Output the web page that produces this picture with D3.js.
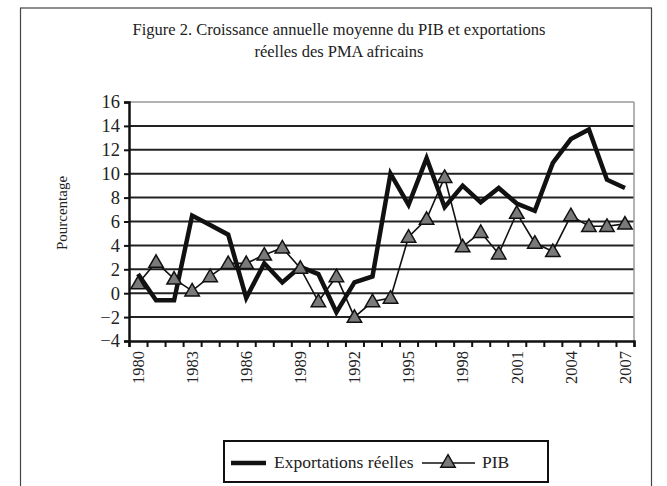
<!DOCTYPE html>
<html>
<head>
<meta charset="utf-8">
<script src="https://cdn.jsdelivr.net/npm/d3@7"></script>
<style>
body{margin:0;background:#fff;}
</style>
</head>
<body>
<svg id="chart" width="667" height="486"></svg>
<script>
const years=[1980,1981,1982,1983,1984,1985,1986,1987,1988,1989,1990,1991,1992,1993,1994,1995,1996,1997,1998,1999,2000,2001,2002,2003,2004,2005,2006,2007];
const exportations=[1.6,-0.6,-0.6,6.5,5.7,4.9,-0.4,2.5,0.9,2.2,1.6,-1.6,0.9,1.4,10.0,7.4,11.3,7.2,9.0,7.6,8.8,7.5,6.9,10.9,12.9,13.7,9.5,8.8];
const pib=[0.8,2.6,1.2,0.2,1.4,2.5,2.5,3.2,3.8,2.1,-0.7,1.4,-2.0,-0.7,-0.4,4.7,6.2,9.7,3.9,5.1,3.3,6.7,4.2,3.5,6.5,5.6,5.6,5.8];
const yTicks=[-4,-2,0,2,4,6,8,10,12,14,16];
const labelYears=[1980,1983,1986,1989,1992,1995,1998,2001,2004,2007];
const titleLines=["Figure 2. Croissance annuelle moyenne du PIB et exportations","réelles des PMA africains"];
const seriesNames=["Exportations réelles","PIB"];

const serif="'Liberation Serif','Times New Roman','DejaVu Serif',serif";
const svg=d3.select("#chart");
const pLeft=129,pRight=634,pTop=102,pBottom=341;

// cadre
svg.append("rect").attr("x",20.5).attr("y",8).attr("width",631).attr("height",500)
	.attr("fill","none").attr("stroke","#444").attr("stroke-width",1.2);

svg.selectAll("text.title").data(titleLines).enter().append("text")
	.attr("class","title").attr("x",339).attr("y",function(d,i){return 35+i*22;})
	.attr("text-anchor","middle").style("font-family",serif).style("font-size","16.5px").style("fill","#222")
	.text(function(d){return d;});

const x=d3.scaleBand().domain(years).range([pLeft,pRight]);
const xi=d3.scaleLinear().domain([0,years.length]).range([pLeft,pRight]);
const y=d3.scaleLinear().domain([-4,16]).range([pBottom,pTop]);

// grille
svg.append("g").selectAll("line").data(yTicks.filter(function(d){return d>-4&&d<16;})).enter().append("line")
	.attr("x1",pLeft).attr("x2",pRight).attr("y1",function(d){return y(d);}).attr("y2",function(d){return y(d);})
	.attr("stroke","#222").attr("stroke-width",2);
svg.append("line").attr("x1",pLeft).attr("x2",pRight).attr("y1",y(16)).attr("y2",y(16)).attr("stroke","#999").attr("stroke-width",1.5);
svg.append("line").attr("x1",pRight).attr("x2",pRight).attr("y1",y(16)).attr("y2",y(-4)).attr("stroke","#999").attr("stroke-width",1.5);

// axe y
const yAxis=svg.append("g").attr("transform","translate("+pLeft+",0)")
	.call(d3.axisLeft(y).tickValues(yTicks).tickSize(5).tickPadding(4));
yAxis.selectAll("line").attr("stroke","#111").attr("stroke-width",2);
yAxis.select(".domain").attr("stroke","#111").attr("stroke-width",2.5);
yAxis.selectAll("text").style("font-family",serif).style("font-size","18.5px").style("fill","#222");

svg.append("text").attr("transform","translate(67,213) rotate(-90)").attr("text-anchor","middle")
	.style("font-family",serif).style("font-size","15px").style("fill","#222").text("Pourcentage");

// axe x
const xAxis=svg.append("g").attr("transform","translate(0,"+pBottom+")")
	.call(d3.axisBottom(xi).tickValues(d3.range(0,years.length+1)).tickSize(6).tickFormat(""));
xAxis.selectAll("line").attr("stroke","#111").attr("stroke-width",2);
xAxis.select(".domain").attr("stroke","#111").attr("stroke-width",2.5);

const xLab=svg.append("g").attr("transform","translate(0,"+pBottom+")")
	.call(d3.axisBottom(x).tickValues(labelYears).tickSize(0));
xLab.select(".domain").remove();
xLab.selectAll("text").attr("transform","rotate(-90)").attr("text-anchor","end")
	.attr("x",-10).attr("y",0).attr("dy","0.35em")
	.style("font-family",serif).style("font-size","16.5px").style("fill","#222");

const cx=function(d,i){return x(years[i])+x.bandwidth()/2;};
const line=d3.line().x(cx).y(function(d){return y(d);});

svg.append("path").datum(pib).attr("d",line).attr("fill","none").attr("stroke","#111").attr("stroke-width",1.6);
svg.append("path").datum(exportations).attr("d",line).attr("fill","none").attr("stroke","#111")
	.attr("stroke-width",4.5).attr("stroke-linejoin","miter");

const tri=d3.symbol().type(d3.symbolTriangle).size(90);
svg.append("g").selectAll("path").data(pib).enter().append("path")
	.attr("d",tri).attr("transform",function(d,i){return "translate("+cx(d,i)+","+(y(d)+1)+")";})
	.attr("fill","#7a7a7a").attr("stroke","#111").attr("stroke-width",1.5);

// légende
const lg=svg.append("g");
lg.append("rect").attr("x",224).attr("y",441).attr("width",324).attr("height",41)
	.attr("fill","#fff").attr("stroke","#111").attr("stroke-width",2);
lg.append("line").attr("x1",231).attr("x2",266).attr("y1",463).attr("y2",463).attr("stroke","#111").attr("stroke-width",4.5);
lg.append("text").attr("x",274).attr("y",468).style("font-family",serif).style("font-size","17.5px").style("fill","#222").text(seriesNames[0]);
lg.append("line").attr("x1",422).attr("x2",475).attr("y1",463).attr("y2",463).attr("stroke","#111").attr("stroke-width",1.6);
lg.append("path").attr("d",tri).attr("transform","translate(448,463)").attr("fill","#7a7a7a").attr("stroke","#111").attr("stroke-width",1.5);
lg.append("text").attr("x",482).attr("y",468).style("font-family",serif).style("font-size","17.5px").style("fill","#222").text(seriesNames[1]);
</script>
</body>
</html>
